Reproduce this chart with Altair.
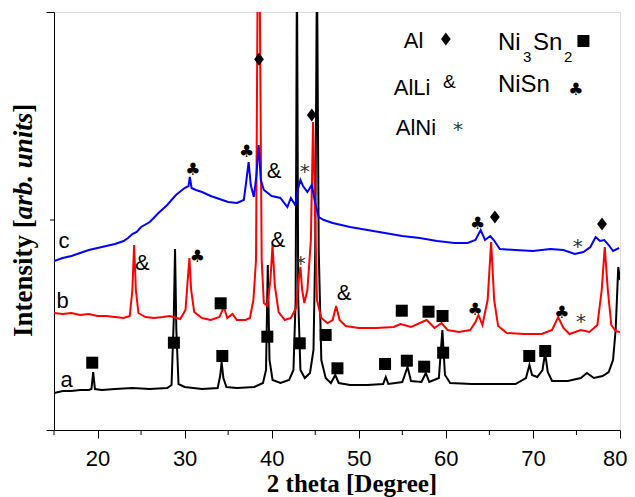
import altair as alt
import pandas as pd

# ---------------- data (2 theta in degrees, intensity in arb. units) ----------------
a_theta = [15.0, 16, 17, 18, 19, 19.3, 19.5, 19.7, 20.5, 22, 24, 26, 28, 28.5, 28.75, 28.9, 29.05, 29.3, 30, 32,
           33.8, 34.1, 34.25, 34.45, 34.8, 36, 38, 39.0, 39.35, 39.55, 39.75, 40.1, 41, 42.0, 42.5, 42.75, 42.9,
           43.05, 43.3, 43.8, 44.4, 44.8, 45.0, 45.2, 45.4, 45.7, 46.2, 46.8, 47.3, 47.7, 49, 51, 52.8, 53.1, 53.4,
           55.0, 55.6, 56.0, 57.2, 57.7, 58.1, 59.2, 59.6, 59.9, 60.5, 63, 66, 68, 69.2, 69.6, 69.9, 70.5, 71.1,
           71.4, 71.7, 72.2, 74, 75.5, 76.2, 77, 78, 78.7, 79.2, 79.5, 79.8, 80.0]
a_int = [37, 39, 39, 40, 40, 41, 58, 41, 40, 41, 42, 41, 42, 45, 110, 181, 100, 46, 43, 41,
         42, 55, 68, 52, 43, 42, 43, 47, 60, 165, 70, 50, 47, 50, 60, 130, 470,
         130, 60, 52, 57, 80, 180, 470, 180, 70, 52, 47, 55, 47, 45, 45, 46, 53, 46,
         48, 63, 49, 48, 57, 48, 52, 100, 55, 47, 46, 46, 46, 52, 65, 55, 53, 60,
         77, 58, 49, 49, 52, 57, 52, 54, 58, 70, 100, 163, 150]

b_theta = [15.0, 16, 17, 18, 19, 20, 21, 22, 23, 23.7, 24.0, 24.2, 24.4, 24.7, 25.5, 26.5, 27.5, 28.3, 29.5,
           30.1, 30.4, 30.55, 30.75, 31.1, 32, 33, 34, 34.5, 34.9, 35.5, 36.0, 37, 37.5, 37.9, 38.2, 38.4, 38.6,
           38.85, 39.1, 39.5, 39.85, 40.1, 40.35, 40.8, 41.5, 42.2, 42.8, 43.1, 43.3, 43.5, 43.75, 44.1, 44.5,
           44.75, 44.95, 45.2, 45.7, 46.4, 47.0, 47.4, 47.8, 48.5, 50, 52, 54, 54.8, 56, 57.8, 58.7, 59.5, 60.2,
           61.5, 62.8, 63.4, 63.75, 64.2, 64.8, 65.2, 65.55, 66.0, 67, 69, 71, 72.2, 72.9, 73.5, 74.2, 75.5, 76.5,
           77.4, 77.9, 78.25, 78.6, 79.0, 79.5, 80.0]
b_int = [117, 116, 117, 115, 116, 114, 114, 113, 112, 114, 140, 185, 140, 117, 113, 112, 113, 114, 111,
         120, 155, 172, 140, 118, 112, 110, 113, 123, 112, 116, 110, 110, 112, 130, 170, 470, 470,
         170, 127, 124, 150, 185, 145, 118, 110, 112, 122, 150, 163, 140, 127, 140, 190,
         308, 230, 130, 112, 107, 110, 124, 110, 104, 102, 102, 103, 106, 103, 110, 102, 107, 100,
         98, 100, 108, 115, 105, 130, 188, 130, 104, 97, 96, 96, 100, 113, 102, 96, 100, 98,
         105, 140, 183, 140, 105, 99, 98]

c_theta = [15.0, 16, 17, 18, 19, 20, 21, 22, 23, 23.5, 24.0, 24.5, 25, 26, 27, 28, 29, 30, 30.45, 30.6, 30.8,
           31.3, 32, 33, 34, 35, 36, 36.8, 37.1, 37.35, 37.6, 37.95, 38.25, 38.5, 38.75, 39.1, 40, 41, 41.8,
           42.2, 42.7, 43.05, 43.3, 43.6, 44.1, 44.6, 45.0, 45.4, 46, 47, 49, 51, 53, 55, 57, 59, 61, 62.5, 63.4,
           64.0, 64.5, 65.1, 65.5, 66.2, 68, 70, 72, 73.5, 74.8, 75.8, 76.6, 77.2, 77.7, 78.2, 78.7, 79.2, 79.9]
c_int = [169, 172, 174, 177, 180, 182, 184, 186, 189, 192, 196, 198, 203, 208, 217, 225, 235, 242, 244, 253, 242,
         240, 238, 234, 231, 228, 227, 230, 250, 268, 245, 233, 255, 285, 250, 240, 234, 232, 223,
         232, 225, 242, 250, 244, 238, 245, 227, 213, 210, 207, 203, 200, 197, 194, 192, 189, 187, 187, 190,
         200, 190, 194, 190, 181, 180, 179, 181, 180, 176, 178, 183, 193, 189, 190, 185, 179, 182]

x_ticks = [20, 30, 40, 50, 60, 70, 80]
x_minor = [15, 25, 35, 45, 55, 65, 75]
y_ticks = [0, 418]
y_minor = [210]

# phase markers: (theta, intensity)
sq_theta = [34.14, 54.94, 58.01, 59.62, 19.39, 28.77, 34.33, 39.5, 43.22, 46.2, 47.55, 53.02, 55.52, 57.51,
            59.69, 69.58, 71.41, 75.8]
sq_int = [126.7, 119.3, 118.3, 114, 67.3, 87.3, 74, 93.3, 86.7, 95, 61.7, 66, 69.3, 63.3, 77.3, 74, 79, 389]
dia_theta = [38.54, 44.6, 65.63, 77.93, 60.0]
dia_int = [370.7, 315, 213, 206, 391]
club_theta = [30.95, 37.13, 63.64, 31.46, 63.37, 73.33, 74.94]
club_int = [260, 278, 206, 173.3, 120, 117.3, 340]
amp_theta = [40.27, 25.14, 40.72, 48.31]
amp_int = [259, 166.7, 190, 136.7]
star_theta = [43.79, 75.14, 43.33, 75.52, 61.4]
star_int = [260.7, 186, 169, 110.7, 303]

# trace labels
lab_text = ["a", "b", "c"]
lab_theta = [15.75, 15.29, 15.52]
lab_int = [43, 122, 182]

# legend texts
leg_text = ["Al", "AlLi", "AlNi"]
leg_theta = [55.17, 54.02, 54.25]
leg_int = [382, 335, 295]
leg2_text = ["Ni", "Sn", "NiSn"]
leg2_theta = [65.98, 70.0, 65.98]
leg2_int = [380, 380, 338]
sub_text = ["3", "2"]
sub_theta = [68.85, 73.56]
sub_int = [368, 368]
amp_leg_theta = [59.66]
amp_leg_int = [342]

# ---------------- chart ----------------
W, H = 566, 418
xs = alt.Scale(domain=[15, 80], nice=False, zero=False)
ys = alt.Scale(domain=[0, 418], nice=False, zero=False)
xaxis = alt.Axis(values=x_ticks, tickSize=8, tickColor="black", tickWidth=1, domainColor="black",
                 domainWidth=1, labelFont="Liberation Sans", labelFontSize=22, labelColor="black",
                 labelPadding=10, labelFlush=True, labelFlushOffset=7, grid=False,
                 title="2 theta [Degree]", titleFont="Liberation Serif", titleFontSize=25,
                 titleFontWeight="bold", titleColor="black", titleX=297.5, titleY=61,
                 titleAlign="center", titleBaseline="alphabetic")
yaxis = alt.Axis(values=y_ticks, tickSize=8, tickColor="black", tickWidth=1, domainColor="black",
                 domainWidth=1, labels=False, grid=False, title=None)


def X():
    return alt.X("theta:Q", scale=xs, axis=xaxis)


def Y():
    return alt.Y("intensity:Q", scale=ys, axis=yaxis)


def df(t, i, **extra):
    d = pd.DataFrame({"theta": t, "intensity": i})
    for k, v in extra.items():
        d[k] = v
    return d


def line(t, i, color):
    return alt.Chart(df(t, i)).mark_line(color=color, strokeWidth=2, clip=True).encode(x=X(), y=Y())


la = line(a_theta, a_int, "#000000")
lb = line(b_theta, b_int, "#ff0000")
lc = line(c_theta, c_int, "#0000ff")

squares = alt.Chart(df(sq_theta, sq_int)).mark_point(
    shape="square", filled=True, size=144, color="black", opacity=1, strokeWidth=0).encode(x=X(), y=Y())
diamonds = alt.Chart(df(dia_theta, dia_int)).mark_point(
    shape="M-0.75,0L0,-1L0.75,0L0,1Z", filled=True, size=169, color="black", opacity=1,
    strokeWidth=0).encode(x=X(), y=Y())
clubs = alt.Chart(df(club_theta, club_int)).mark_text(
    text="♣", font="DejaVu Sans", fontSize=17, color="black", baseline="middle").encode(x=X(), y=Y())
amps = alt.Chart(df(amp_theta, amp_int)).mark_text(
    text="&", font="Liberation Sans", fontSize=22, color="black", baseline="middle").encode(x=X(), y=Y())
stars = alt.Chart(df(star_theta, star_int)).mark_text(
    text="*", font="DejaVu Sans", fontSize=20, color="#333333", baseline="middle", dy=3).encode(x=X(), y=Y())
amp_leg = alt.Chart(df(amp_leg_theta, amp_leg_int)).mark_text(
    text="&", font="Liberation Sans", fontSize=19, color="black", align="left",
    baseline="alphabetic").encode(x=X(), y=Y())

labels = alt.Chart(df(lab_theta, lab_int, label=lab_text)).mark_text(
    font="Liberation Sans", fontSize=22, color="black", align="left", baseline="alphabetic").encode(
    x=X(), y=Y(), text="label:N")
legend1 = alt.Chart(df(leg_theta, leg_int, label=leg_text)).mark_text(
    font="Liberation Sans", fontSize=22, color="black", align="left", baseline="alphabetic").encode(
    x=X(), y=Y(), text="label:N")
legend2 = alt.Chart(df(leg2_theta, leg2_int, label=leg2_text)).mark_text(
    font="Liberation Sans", fontSize=24, color="black", align="left", baseline="alphabetic").encode(
    x=X(), y=Y(), text="label:N")
subs = alt.Chart(df(sub_theta, sub_int, label=sub_text)).mark_text(
    font="Liberation Sans", fontSize=15, color="black", align="left", baseline="alphabetic").encode(
    x=X(), y=Y(), text="label:N")

minor_x = alt.Chart(pd.DataFrame({"theta": x_minor})).mark_rule(color="black", strokeWidth=1).encode(
    x=X(), y=alt.value(H), y2=alt.value(H + 5))
minor_y = alt.Chart(pd.DataFrame({"intensity": y_minor})).mark_rule(color="black", strokeWidth=1).encode(
    y=Y(), x=alt.value(-4), x2=alt.value(0))

# y-axis title with mixed bold / bold-italic pieces, laid out bottom-to-top
fs = 27
start = 325
w1 = 4.361 * fs
w2 = 3.946 * fs
one = pd.DataFrame({"k": [0]})
t_style = dict(font="Liberation Serif", fontSize=fs, fontWeight="bold", color="black", angle=270,
               align="left", baseline="alphabetic")
yt1 = alt.Chart(one).mark_text(text="Intensity [", **t_style).encode(x=alt.value(-22), y=alt.value(start))
yt2 = alt.Chart(one).mark_text(text="arb. units", fontStyle="italic", **t_style).encode(
    x=alt.value(-22), y=alt.value(start - w1))
yt3 = alt.Chart(one).mark_text(text="]", **t_style).encode(x=alt.value(-22), y=alt.value(start - w1 - w2))

chart = alt.layer(
    la, lb, lc, squares, diamonds, clubs, amps, stars, amp_leg, labels, legend1, legend2, subs,
    minor_x, minor_y, yt1, yt2, yt3
).properties(
    width=W, height=H,
    padding={"left": 46, "top": 4, "right": 7, "bottom": 67},
    autosize=alt.AutoSizeParams(type="none"),
).configure_view(stroke="black", strokeWidth=1).configure(background="white")

chart.save("out.html", embed_options={"renderer": "svg", "actions": False})
